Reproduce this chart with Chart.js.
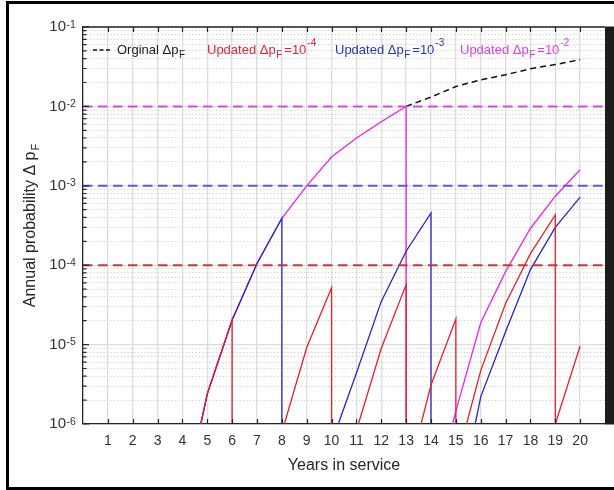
<!DOCTYPE html>
<html><head><meta charset="utf-8">
<script src="https://cdn.jsdelivr.net/npm/chart.js@4/dist/chart.umd.min.js"></script>
<style>html,body{margin:0;padding:0;background:#fff;overflow:hidden}</style>
</head><body>
<canvas id="c" width="614" height="490"></canvas>
<script>
const FONT = "'Liberation Sans', Arial, Helvetica, sans-serif";

// ---- tick labels ----
const yearTicks = [1,2,3,4,5,6,7,8,9,10,11,12,13,14,15,16,17,18,19,20];
const decadeExps = [-6,-5,-4,-3,-2,-1];

// ---- thresholds (dashed horizontal lines) ----
const thresholdValues = [1e-4, 1e-3, 1e-2];

// ---- Original ΔpF ----
const originalYears = [4.74, 5, 6, 7, 8, 9, 10, 11, 12, 13, 14, 15, 16, 17, 18, 19, 20];
const originalP     = [1e-6, 2.4e-6, 2.04e-5, 1.05e-4, 3.9e-4, 1.0e-3, 2.3e-3, 4.0e-3, 6.4e-3, 1.0e-2, 1.31e-2, 1.78e-2, 2.16e-2, 2.5e-2, 2.98e-2, 3.37e-2, 3.87e-2];

// ---- Updated ΔpF = 1e-4 (red) ; null = break ----
const redYears = [4.74, 5, 6, 6, null, 8.1, 9, 10, 10, null, 11.08, 12, 13, 13, null, 13.6, 14, 15, 15, null, 15.43, 16, 17, 18, 19, 19, 20];
const redP     = [1e-6, 2.4e-6, 2.04e-5, 1e-6, null, 1e-6, 9.2e-6, 5.2e-5, 1e-6, null, 1e-6, 9e-6, 5.7e-5, 1e-6, null, 1e-6, 3.1e-6, 2.1e-5, 1e-6, null, 1e-6, 4.7e-6, 3.3e-5, 1.4e-4, 4.3e-4, 1e-6, 9.6e-6];

// ---- Updated ΔpF = 1e-3 (blue) ----
const blueYears = [4.74, 5, 6, 7, 8, 8, null, 10.27, 11, 12, 13, 14, 14, null, 15.78, 16, 17, 18, 19, 20];
const blueP     = [1e-6, 2.4e-6, 2.04e-5, 1.05e-4, 3.9e-4, 1e-6, null, 1e-6, 4.4e-6, 3.5e-5, 1.5e-4, 4.55e-4, 1e-6, null, 1e-6, 2.2e-6, 1.45e-5, 8.8e-5, 3.0e-4, 7.2e-4];

// ---- Updated ΔpF = 1e-2 (magenta) ----
const magYears = [4.74, 5, 6, 7, 8, 9, 10, 11, 12, 13, 13, null, 14.87, 15, 16, 17, 18, 19, 20];
const magP     = [1e-6, 2.4e-6, 2.04e-5, 1.05e-4, 3.9e-4, 1.0e-3, 2.3e-3, 4.0e-3, 6.4e-3, 1.0e-2, 1e-6, null, 1e-6, 1.45e-6, 1.88e-5, 8.3e-5, 2.9e-4, 7.4e-4, 1.59e-3];

// ---- legend texts ----
const legendOriginal = 'Orginal Δp';
const legendUpdated = 'Updated Δp';
const legendExps = ['-4', '-3', '-2'];

const toPts = (xs, ys) => xs.map((x, i) => (x === null ? {x: NaN, y: null} : {x: x, y: ys[i]}));
const origPts = toPts(originalYears, originalP).filter(p => p.x >= 13);

const C_RED = '#e8202a', C_BLUE = '#2626c4', C_MAG = '#ee22ee';
const T_RED = '#c03c3c', T_BLUE = '#5959ee', T_MAG = '#d84bd8';

function hline(v, color) {
  return {data: [{x: 0, y: v}, {x: 21, y: v}], borderColor: color, borderWidth: 2, borderDash: [9.5, 5.5], pointRadius: 0, fill: false};
}

const isDecade = v => Math.abs(Math.log10(v) - Math.round(Math.log10(v))) < 1e-6;

const framePlugin = {
  id: 'frame',
  afterDraw(chart) {
    const {ctx, chartArea: a, scales: {x, y}} = chart;
    ctx.save();
    // top axis line
    ctx.strokeStyle = '#262626'; ctx.lineWidth = 1.3;
    ctx.beginPath(); ctx.moveTo(a.left, a.top); ctx.lineTo(a.right, a.top); ctx.stroke();
    // inward ticks x
    ctx.lineWidth = 1.2;
    ctx.beginPath();
    yearTicks.forEach(v => {
      const px = Math.round(x.getPixelForValue(v)) + 0.5;
      ctx.moveTo(px, a.bottom); ctx.lineTo(px, a.bottom - 5);
      ctx.moveTo(px, a.top); ctx.lineTo(px, a.top + 5);
    });
    // inward ticks y
    y.ticks.forEach(t => {
      const py = y.getPixelForValue(t.value);
      const len = isDecade(t.value) ? 6 : 3.5;
      ctx.moveTo(a.left, py); ctx.lineTo(a.left + len, py);
    });
    ctx.stroke();
    // right dark band
    ctx.fillStyle = '#1c1c1c';
    ctx.fillRect(a.right, a.top - 0.5, chart.width - a.right, a.bottom - a.top + 1);

    // y tick exponents (superscripts after the library's "10" labels)
    ctx.fillStyle = '#333';
    ctx.font = '10.5px ' + FONT;
    ctx.textAlign = 'left'; ctx.textBaseline = 'alphabetic';
    decadeExps.forEach(e => {
      const py = y.getPixelForValue(Math.pow(10, e));
      ctx.fillText(String(e), a.left - 16.5, py + 0.5);
    });

    // y title
    ctx.fillStyle = '#262626';
    ctx.save();
    ctx.translate(35, (a.top + a.bottom) / 2);
    ctx.rotate(-Math.PI / 2);
    ctx.font = '16px ' + FONT;
    const main = 'Annual probability Δ p';
    const wMain = ctx.measureText(main).width;
    ctx.font = '11px ' + FONT;
    const wSub = ctx.measureText('F').width;
    let sx = -(wMain + wSub + 1) / 2;
    ctx.textBaseline = 'alphabetic'; ctx.textAlign = 'left';
    ctx.font = '16px ' + FONT;
    ctx.fillText(main, sx, 0);
    ctx.font = '11px ' + FONT;
    ctx.fillText('F', sx + wMain + 1, 4);
    ctx.restore();

    // legend
    const base = 54;
    ctx.textBaseline = 'alphabetic'; ctx.textAlign = 'left';
    ctx.strokeStyle = '#111'; ctx.lineWidth = 1.5; ctx.setLineDash([4, 2.5]);
    ctx.beginPath(); ctx.moveTo(93, 50); ctx.lineTo(111, 50); ctx.stroke();
    ctx.setLineDash([]);
    function entry(x0, color, txt, exp) {
      ctx.fillStyle = color;
      ctx.font = '13px ' + FONT;
      ctx.fillText(txt, x0, base);
      let xx = x0 + ctx.measureText(txt).width + 0.5;
      ctx.font = '10px ' + FONT;
      ctx.fillText('F', xx, base + 4);
      xx += ctx.measureText('F').width + 2;
      if (exp) {
        ctx.font = '13px ' + FONT;
        ctx.fillText('=10', xx, base);
        xx += ctx.measureText('=10').width + 1;
        ctx.font = '10px ' + FONT;
        ctx.fillText(exp, xx, base - 8);
      }
    }
    entry(117, '#1a1a1a', legendOriginal, null);
    entry(207, '#e8203a', legendUpdated, legendExps[0]);
    entry(335, '#2b35b5', legendUpdated, legendExps[1]);
    entry(460, '#e53be5', legendUpdated, legendExps[2]);

    // outer frame
    ctx.strokeStyle = '#000'; ctx.lineWidth = 3;
    ctx.beginPath();
    ctx.moveTo(chart.width, 2.5); ctx.lineTo(7.5, 2.5); ctx.lineTo(7.5, 488.5); ctx.lineTo(chart.width, 488.5);
    ctx.stroke();
    ctx.restore();
  }
};

new Chart(document.getElementById('c'), {
  type: 'line',
  data: {
    datasets: [
      hline(thresholdValues[0], T_RED),
      hline(thresholdValues[1], T_BLUE),
      hline(thresholdValues[2], T_MAG),
      {label: 'Orginal ΔpF', data: origPts, borderColor: '#111', borderWidth: 1.5, borderDash: [6, 4], pointRadius: 0},
      {label: 'Updated ΔpF=1e-4', data: toPts(redYears, redP), borderColor: C_RED, borderWidth: 1.3, pointRadius: 0, spanGaps: false},
      {label: 'Updated ΔpF=1e-3', data: toPts(blueYears, blueP), borderColor: C_BLUE, borderWidth: 1.3, pointRadius: 0, spanGaps: false},
      {label: 'Updated ΔpF=1e-2', data: toPts(magYears, magP), borderColor: C_MAG, borderWidth: 1.3, pointRadius: 0, spanGaps: false}
    ]
  },
  options: {
    responsive: false,
    animation: false,
    events: [],
    layout: {padding: {left: 0, right: 6, top: 27, bottom: 0}},
    elements: {line: {tension: 0}},
    plugins: {legend: {display: false}, tooltip: {enabled: false}},
    scales: {
      x: {
        type: 'linear', min: 0, max: 21,
        afterBuildTicks: s => { s.ticks = [0].concat(yearTicks, [21]).map(v => ({value: v})); },
        afterFit: s => { s.height = 66; },
        ticks: {autoSkip: false, maxRotation: 0, padding: 9, color: '#333', font: {family: FONT, size: 14},
          callback: v => (yearTicks.includes(v) ? String(v) : '')},
        grid: {drawTicks: false, lineWidth: 1.3,
          color: c => (c.tick && (c.tick.value === 0 || c.tick.value === 21)) ? 'rgba(0,0,0,0)' : '#dcdcdc'},
        border: {display: true, color: '#262626', width: 1.3},
        title: {display: true, text: 'Years in service', color: '#262626', font: {family: FONT, size: 16}, padding: {top: 0, bottom: 15}}
      },
      y: {
        type: 'logarithmic', min: 1e-6, max: 1e-1,
        afterBuildTicks: s => {
          const t = [];
          decadeExps.forEach(e => {
            for (let k = 1; k <= 9; k++) {
              if (e === -1 && k > 1) break;
              t.push({value: Number((k * Math.pow(10, e)).toPrecision(3))});
            }
          });
          s.ticks = t;
        },
        afterFit: s => { s.width = 83; },
        ticks: {autoSkip: false, padding: 17, color: '#333', font: {family: FONT, size: 15},
          callback: v => (isDecade(v) ? '10' : '')},
        grid: {drawTicks: false,
          lineWidth: c => (c.tick && isDecade(c.tick.value)) ? 1.3 : 1,
          color: c => (c.tick && isDecade(c.tick.value)) ? '#dcdcdc' : '#cfcfcf',
          borderDash: c => (c.tick && !isDecade(c.tick.value)) ? [1.2, 2.2] : []},
        border: {display: true, color: '#262626', width: 1.3,
          dash: c => (c.tick && !isDecade(c.tick.value)) ? [1.2, 2.2] : []}
      }
    }
  },
  plugins: [framePlugin]
});
</script>
</body></html>
